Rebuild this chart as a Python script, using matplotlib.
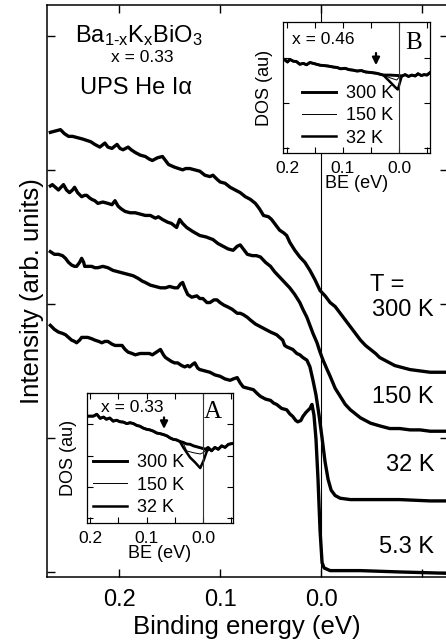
import numpy as np
import matplotlib
matplotlib.use("Agg")
import matplotlib.pyplot as plt

plt.rcParams['font.family'] = ['Liberation Sans', 'DejaVu Sans']
plt.rcParams['mathtext.fontset'] = 'custom'
plt.rcParams['mathtext.rm'] = 'Liberation Sans'
plt.rcParams['mathtext.it'] = 'Liberation Sans:italic'

# --- main panel: UPS spectra near E_F, offset per temperature (arb. units) ---
temps = ["300 K", "150 K", "32 K", "5.3 K"]

be_300 = [0.268, 0.263, 0.258, 0.254, 0.250, 0.246, 0.241, 0.236, 0.232, 0.228,
          0.224, 0.219, 0.214, 0.211, 0.207, 0.202, 0.199, 0.196, 0.191, 0.188,
          0.184, 0.179, 0.174, 0.170, 0.167, 0.162, 0.157, 0.154, 0.151, 0.148,
          0.145, 0.141, 0.137, 0.134, 0.130, 0.125, 0.120, 0.115, 0.110, 0.107,
          0.103, 0.100, 0.095, 0.090, 0.085, 0.080, 0.075, 0.070, 0.065, 0.061,
          0.057, 0.052, 0.049, 0.045, 0.041, 0.037, 0.034, 0.031, 0.026, 0.021,
          0.016, 0.011, 0.006, 0.001, -0.004, -0.009, -0.014, -0.019, -0.024, -0.029,
          -0.034, -0.039, -0.044, -0.049, -0.054, -0.058, -0.063, -0.068, -0.073, -0.078,
          -0.088, -0.098, -0.108, -0.125]
int_300 = [328, 329, 330, 327, 325, 325, 324, 323, 322, 321,
           319, 317, 320, 317, 316, 319, 316, 315, 317, 315,
           313, 311, 310, 308, 307, 309, 310, 307, 304, 303,
           302, 301, 300, 301, 301, 300, 299, 296, 295, 296,
           293, 291, 290, 287, 285, 283, 280, 278, 275, 271,
           266, 265, 263, 259, 255, 253, 251, 246, 240, 235,
           231, 225, 218, 210, 206, 201, 198, 193, 188, 183,
           178, 173, 169, 166, 163, 160, 158, 156, 154, 153,
           151, 150, 149, 149]

be_150 = [0.268, 0.266, 0.263, 0.260, 0.255, 0.252, 0.249, 0.246, 0.244, 0.241,
          0.237, 0.234, 0.232, 0.229, 0.227, 0.224, 0.221, 0.216, 0.211, 0.207,
          0.204, 0.201, 0.198, 0.194, 0.189, 0.184, 0.179, 0.174, 0.169, 0.164,
          0.161, 0.157, 0.152, 0.148, 0.143, 0.140, 0.137, 0.133, 0.127, 0.120,
          0.114, 0.107, 0.102, 0.097, 0.092, 0.087, 0.083, 0.080, 0.076, 0.073,
          0.068, 0.064, 0.060, 0.055, 0.050, 0.046, 0.041, 0.036, 0.031, 0.026,
          0.021, 0.018, 0.014, 0.011, 0.008, 0.004, 0.001, -0.002, -0.006, -0.009,
          -0.014, -0.019, -0.024, -0.029, -0.034, -0.039, -0.044, -0.049, -0.058, -0.068,
          -0.078, -0.088, -0.098, -0.108, -0.125]
int_150 = [288, 289, 287, 285, 289, 285, 283, 285, 287, 283,
           280, 281, 281, 279, 278, 277, 275, 276, 275, 274,
           277, 273, 271, 269, 268, 268, 267, 266, 266, 264,
           265, 263, 261, 260, 257, 263, 260, 257, 254, 251,
           250, 248, 245, 243, 241, 240, 243, 244, 240, 237,
           236, 236, 235, 231, 228, 224, 220, 216, 212, 207,
           201, 196, 190, 184, 178, 171, 164, 158, 151, 146,
           137, 131, 125, 121, 118, 115, 113, 111, 109, 107,
           107, 106, 106, 105, 105]

be_32 = [0.268, 0.264, 0.260, 0.256, 0.253, 0.250, 0.247, 0.244, 0.242, 0.239,
         0.237, 0.235, 0.234, 0.231, 0.227, 0.224, 0.221, 0.216, 0.211, 0.206,
         0.201, 0.196, 0.191, 0.186, 0.181, 0.177, 0.174, 0.169, 0.164, 0.159,
         0.154, 0.150, 0.145, 0.142, 0.139, 0.137, 0.135, 0.132, 0.128, 0.123,
         0.120, 0.117, 0.113, 0.110, 0.106, 0.103, 0.100, 0.096, 0.093, 0.088,
         0.083, 0.080, 0.077, 0.073, 0.070, 0.065, 0.060, 0.055, 0.050, 0.047,
         0.044, 0.041, 0.038, 0.036, 0.034, 0.031, 0.028, 0.024, 0.021, 0.018,
         0.014, 0.011, 0.008, 0.005, 0.002, -0.001, -0.004, -0.007, -0.010, -0.014,
         -0.019, -0.029, -0.049, -0.078, -0.108, -0.125]
int_32 = [239, 237, 237, 236, 234, 231, 229, 228, 228, 231,
          234, 231, 228, 228, 228, 227, 227, 228, 227, 225,
          224, 223, 222, 221, 219, 217, 216, 214, 213, 212,
          212, 213, 212, 212, 215, 216, 212, 207, 205, 206,
          204, 204, 201, 201, 203, 203, 201, 199, 198, 196,
          193, 193, 192, 190, 188, 185, 183, 181, 179, 178,
          177, 175, 173, 169, 168, 167, 166, 163, 162, 160,
          158, 153, 143, 132, 117, 100, 82, 69, 61, 57,
          55, 54, 54, 54, 53, 53]

be_5 = [0.268, 0.264, 0.260, 0.256, 0.253, 0.250, 0.247, 0.244, 0.242, 0.239,
        0.237, 0.234, 0.231, 0.227, 0.224, 0.220, 0.217, 0.214, 0.211, 0.207,
        0.204, 0.200, 0.197, 0.194, 0.191, 0.187, 0.184, 0.179, 0.174, 0.170,
        0.167, 0.163, 0.159, 0.156, 0.154, 0.150, 0.148, 0.145, 0.142, 0.138,
        0.135, 0.132, 0.130, 0.127, 0.125, 0.122, 0.120, 0.115, 0.110, 0.105,
        0.100, 0.095, 0.090, 0.087, 0.083, 0.080, 0.077, 0.072, 0.067, 0.063,
        0.060, 0.055, 0.050, 0.047, 0.044, 0.039, 0.034, 0.031, 0.028, 0.025,
        0.023, 0.020, 0.018, 0.015, 0.011, 0.009, 0.007, 0.005, 0.003, 0.001,
        -0.001, -0.003, -0.009, -0.019, -0.039, -0.078, -0.125]
int_5 = [184, 181, 179, 178, 177, 175, 173, 172, 171, 173,
         175, 175, 175, 174, 173, 172, 171, 172, 172, 170,
         169, 169, 169, 166, 164, 163, 162, 163, 163, 163,
         162, 164, 166, 162, 160, 158, 157, 156, 156, 154,
         153, 154, 153, 155, 156, 152, 151, 150, 149, 147,
         146, 144, 143, 144, 145, 141, 138, 137, 136, 133,
         131, 129, 128, 126, 125, 122, 121, 118, 116, 113,
         112, 113, 116, 119, 122, 125, 117, 99, 69, 31,
         7, 3, 1, 1, 1, 0, -1]

# --- insets: DOS near E_F for two compositions ---
ins_temps = ["300 K", "150 K", "32 K"]

# x = 0.33 (panel A): common high-BE part, then one tail per temperature
a_be = [0.203, 0.194, 0.188, 0.182, 0.176, 0.171, 0.165, 0.159, 0.153, 0.147,
        0.141, 0.135, 0.129, 0.123, 0.117, 0.112, 0.106, 0.100, 0.094, 0.088,
        0.082, 0.076, 0.070, 0.064, 0.058, 0.053, 0.047, 0.041]
a_dos = [3.26, 3.26, 3.32, 3.19, 3.23, 3.16, 3.20, 3.10, 3.13, 3.08,
         3.07, 3.02, 3.05, 3.02, 2.96, 2.94, 2.88, 2.84, 2.82, 2.78,
         2.72, 2.70, 2.67, 2.63, 2.56, 2.52, 2.50, 2.45]
a_be_300 = [0.035, 0.029, 0.023, 0.017, 0.011, 0.005, -0.001, -0.004, -0.009, -0.015,
            -0.021, -0.027, -0.033, -0.039, -0.045, -0.051]
a_dos_300 = [2.42, 2.37, 2.36, 2.31, 2.28, 2.25, 2.22, 2.20, 2.26, 2.15,
             2.26, 2.20, 2.31, 2.26, 2.36, 2.38]
a_be_150 = [0.035, 0.029, 0.017, 0.005, -0.001, -0.007, -0.009, -0.015,
            -0.021, -0.027, -0.033, -0.039, -0.045, -0.051]
a_dos_150 = [2.40, 2.15, 2.09, 2.05, 2.10, 2.20, 2.26, 2.15,
             2.26, 2.20, 2.31, 2.26, 2.36, 2.38]
a_be_32 = [0.035, 0.023, 0.014, 0.005, -0.001, -0.007, -0.012, -0.015,
           -0.021, -0.027, -0.033, -0.039, -0.045, -0.051]
a_dos_32 = [2.26, 1.94, 1.78, 1.60, 1.84, 2.15, 2.21, 2.15,
            2.26, 2.20, 2.31, 2.26, 2.36, 2.38]
a_gap_be = 0.069

# x = 0.46 (panel B)
b_be = [0.204, 0.199, 0.195, 0.189, 0.183, 0.177, 0.171, 0.165, 0.159, 0.150,
        0.141, 0.133, 0.126, 0.118, 0.111, 0.104, 0.096, 0.089, 0.082, 0.075,
        0.067, 0.060, 0.052, 0.046, 0.040, 0.034, 0.028]
b_dos = [1.96, 1.91, 1.97, 1.93, 1.92, 1.86, 1.88, 1.85, 1.90, 1.87,
         1.84, 1.83, 1.82, 1.80, 1.79, 1.76, 1.77, 1.74, 1.73, 1.71,
         1.72, 1.69, 1.68, 1.67, 1.66, 1.64, 1.62]
b_be_300 = [0.016, 0.002, -0.006, -0.011, -0.017, -0.023, -0.029, -0.034, -0.040, -0.045,
            -0.050, -0.055]
b_dos_300 = [1.62, 1.61, 1.60, 1.63, 1.59, 1.62, 1.60, 1.65, 1.61, 1.63,
             1.62, 1.67]
b_be_150 = [0.016, 0.004, -0.002, -0.006, -0.011, -0.017, -0.023, -0.029, -0.034, -0.040,
            -0.045, -0.050, -0.055]
b_dos_150 = [1.56, 1.51, 1.60, 1.60, 1.63, 1.59, 1.62, 1.60, 1.65, 1.61,
             1.63, 1.62, 1.67]
b_be_32 = [0.016, 0.005, 0.002, -0.002, -0.005, -0.011, -0.017, -0.023, -0.029, -0.034,
           -0.040, -0.045, -0.050, -0.055]
b_dos_32 = [1.47, 1.33, 1.30, 1.47, 1.60, 1.63, 1.59, 1.62, 1.60, 1.65,
            1.61, 1.63, 1.62, 1.67]
b_gap_be = 0.041


fig = plt.figure(figsize=(4.46, 6.43), dpi=100)
ax = fig.add_axes([0.1054, 0.1034, 0.898, 0.8888])

spectra = [(be_300, int_300), (be_150, int_150), (be_32, int_32), (be_5, int_5)]
for be, inten in spectra:
    ax.plot(be, inten, color='k', lw=2.4, solid_joinstyle='round')
ax.axvline(0.0, color='k', lw=0.8)

ax.set_xlim(0.2713, -0.1252)
ax.set_ylim(-3.4, 423)
ax.set_xticks([0.2, 0.1, 0.0, -0.1], labels=['0.2', '0.1', '0.0', ''])
ax.set_yticks([0, 100, 200, 300, 400], labels=[])
ax.tick_params(direction='in', length=6, width=1, top=True, right=True,
               labelsize=17)
ax.tick_params(axis='x', pad=9)
ax.tick_params(axis='y', pad=0)
for sp in ax.spines.values():
    sp.set_linewidth(1.1)
ax.set_xlabel("Binding energy (eV)", fontsize=18.5, labelpad=3)
ax.set_ylabel("Intensity (arb. units)", fontsize=18.5, labelpad=2)

ax.text(0.0699, 0.9353,
        "Ba$_{\\mathregular{1\u2010x}}$K$_{\\mathregular{x}}$BiO$_{\\mathregular{3}}$",
        transform=ax.transAxes, fontsize=17, ha='left', va='baseline')
ax.text(0.2372, 0.9073, "x = 0.33", transform=ax.transAxes, fontsize=12.5,
        ha='center', va='center')
ax.text(0.0824, 0.8548, "UPS He I\u03b1", transform=ax.transAxes, fontsize=17,
        ha='left', va='center')
ax.text(0.8065, 0.5101, "T =", transform=ax.transAxes, fontsize=17,
        ha='left', va='center')
label_y = [0.4663, 0.3141, 0.1951, 0.0516]
for t, yy in zip(temps, label_y):
    ax.text(0.9663, yy, t, transform=ax.transAxes, fontsize=17,
            ha='right', va='center')


def dos_inset(rect, xlim, be_common, dos_common, tails, gap_be, arrow_y, ylim,
              yticks, xtext, letter, legend_anchor):
    ins = fig.add_axes(rect)
    ins.set_facecolor('white')
    widths = [2.1, 0.7, 1.8]
    lines = []
    for (tb, td), lw, name in zip(tails, widths, ins_temps):
        ln, = ins.plot(list(be_common) + list(tb), list(dos_common) + list(td),
                       color='k', lw=lw, label=name)
        lines.append(ln)
    ins.axvline(0.0, color='#333333', lw=0.8)
    ins.annotate('', xy=(gap_be, arrow_y[1]), xytext=(gap_be, arrow_y[0]),
                 arrowprops=dict(arrowstyle='-|>', color='k', lw=1.6,
                                 mutation_scale=11, shrinkA=0, shrinkB=0))
    ins.set_xlim(*xlim)
    ins.set_ylim(*ylim)
    ins.set_xticks([0.2, 0.1, 0.0], labels=['0.2', '0.1', '0.0'])
    ins.set_xticks([0.15, 0.05, -0.05], minor=True)
    ins.set_yticks(yticks, labels=[])
    ins.tick_params(which='both', direction='in', length=4, width=0.8,
                    top=True, right=True, labelsize=12.5, pad=6)
    for sp in ins.spines.values():
        sp.set_linewidth(0.9)
    ins.set_xlabel("BE (eV)", fontsize=13, labelpad=-1)
    ins.set_ylabel("DOS (au)", fontsize=13, labelpad=1)
    ins.text(xtext[0], xtext[1], xtext[2], transform=ins.transAxes,
             fontsize=12.5, ha='center', va='center')
    ins.text(letter[0], letter[1], letter[2], transform=ins.transAxes,
             fontsize=18, family='Liberation Serif', ha='center', va='center')
    ins.legend(handles=lines, loc='upper left', bbox_to_anchor=legend_anchor,
               frameon=False, fontsize=13, handlelength=1.9,
               handletextpad=0.55, labelspacing=0.3, borderpad=0,
               borderaxespad=0)
    return ins


dos_inset([0.1951, 0.1866, 0.3274, 0.2022], (0.2053, -0.0531),
          a_be, a_dos,
          [(a_be_300, a_dos_300), (a_be_150, a_dos_150), (a_be_32, a_dos_32)],
          a_gap_be, (3.22, 2.85), (-0.158, 3.96), [0, 1, 2, 3, 4],
          (0.31, 0.892, "x = 0.33"), (0.863, 0.854, "A"), (0.041, 0.53))

dos_inset([0.6345, 0.7621, 0.3296, 0.2037], (0.2071, -0.0554),
          b_be, b_dos,
          [(b_be_300, b_dos_300), (b_be_150, b_dos_150), (b_be_32, b_dos_32)],
          b_gap_be, (2.11, 1.84), (-0.111, 2.8), [0, 1, 2],
          (0.276, 0.863, "x = 0.46"), (0.888, 0.84, "B"), (0.129, 0.52))

fig.savefig("out.png", dpi=100)
